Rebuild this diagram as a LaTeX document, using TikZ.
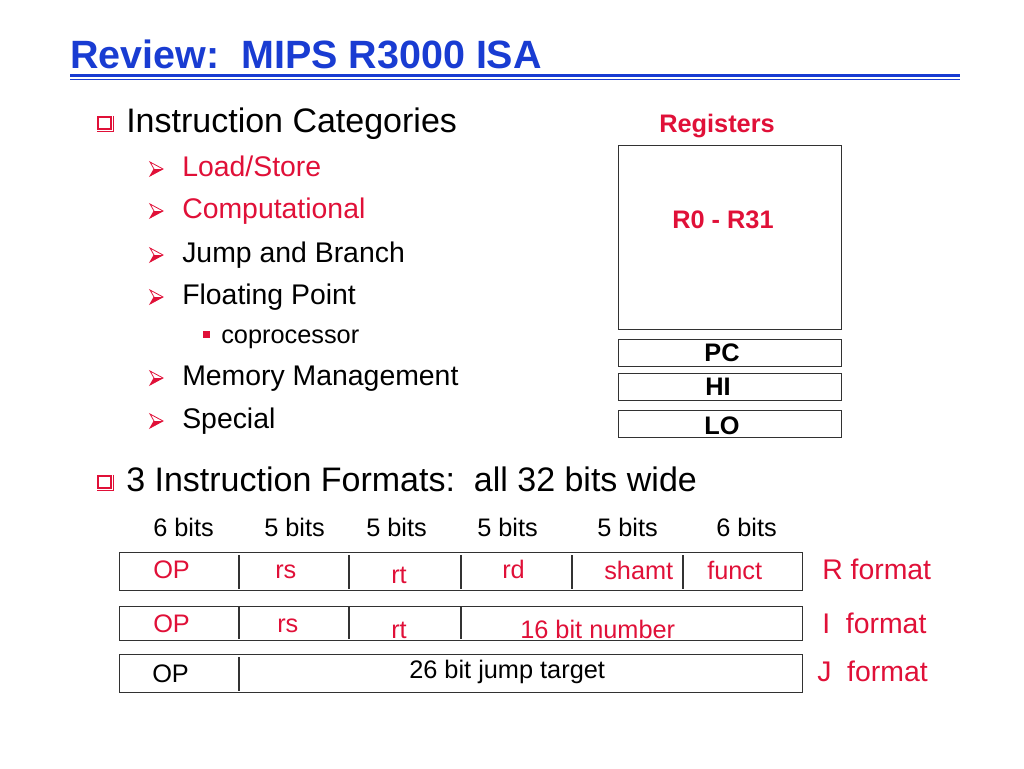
\documentclass[tikz,border=0pt]{standalone}
\usepackage{fontspec}
\setmainfont{Liberation Sans}
\definecolor{ttlblue}{RGB}{25,60,210}
\definecolor{slred}{RGB}{224,16,56}
\definecolor{edge}{RGB}{50,50,50}
\begin{document}
\begin{tikzpicture}[x=0.75pt,y=-0.75pt,
  txt/.style={inner sep=0pt, anchor=base west},
  ctxt/.style={inner sep=0pt, anchor=base},
  bigf/.style={font=\fontsize{25.5}{30}\selectfont},
  midf/.style={font=\fontsize{21.3}{26}\selectfont},
  smallf/.style={font=\fontsize{19}{23}\selectfont},
  boldf/.style={font=\fontsize{19}{23}\selectfont\bfseries},
  redt/.style={text=slred},
  sqbullet/.style={draw=slred, line width=1.8pt, minimum width=9.5pt, minimum height=9pt, inner sep=0pt, anchor=south west},
  sqshadow/.style={draw=slred, line width=1.2pt},
  boxnode/.style={draw=edge, line width=1.1pt, inner sep=0pt, anchor=north west},
  divider/.style={draw=edge, line width=1.1pt},
  arrbullet/.pic={
    \draw[slred, line width=0.6pt, line join=miter] (0,-7) -- (13,0) -- (0,7) -- (4,0) -- cycle;
    \fill[slred] (0,7) -- (13,0) -- (4,0) -- cycle;
  }
]
\useasboundingbox (0,0) rectangle (1024,768);

% title
\node[txt, text=ttlblue, font=\fontsize{29.6}{35}\selectfont\bfseries] (title) at (70,68) {Review:\ \ MIPS R3000 ISA};
\draw[ttlblue, line width=2.4pt] (70,75.5) -- (960,75.5);
\draw[ttlblue, line width=0.8pt] (70,79.5) -- (960,79.5);

% first bullet
\node[sqbullet] (sq1) at (97,130) {};
\draw[sqshadow] ([xshift=1pt,yshift=-0.2pt]sq1.north east) -- ([xshift=1pt,yshift=-1pt]sq1.south east) -- ([xshift=0.2pt,yshift=-1pt]sq1.south west);
\node[txt, bigf] (cat) at (126,132) {Instruction Categories};

\pic at (150,169) {arrbullet};
\node[txt, midf, redt] (ls) at (182,176) {Load/Store};
\pic at (150,211) {arrbullet};
\node[txt, midf, redt] (comp) at (182,218) {Computational};
\pic at (150,255) {arrbullet};
\node[txt, midf] (jb) at (182,262) {Jump and Branch};
\pic at (150,297) {arrbullet};
\node[txt, midf] (fp) at (182,304) {Floating Point};
\fill[slred] (203,331) rectangle (210,338);
\node[txt, smallf] (cop) at (221,343) {coprocessor};
\pic at (150,378) {arrbullet};
\node[txt, midf] (mm) at (182,385) {Memory Management};
\pic at (150,421) {arrbullet};
\node[txt, midf] (sp) at (182,428) {Special};

% registers
\node[ctxt, boldf, redt] (reglbl) at (717,132) {Registers};
\node[boxnode, minimum width={223*0.75pt}, minimum height={184*0.75pt}] (regs) at (618,145) {};
\node[ctxt, boldf, redt] (r031) at (723,228) {R0 - R31};
\node[boxnode, minimum width={223*0.75pt}, minimum height={27*0.75pt}] (pcbox) at (618,339) {};
\node[ctxt, boldf] (pc) at (722,361) {PC};
\node[boxnode, minimum width={223*0.75pt}, minimum height={27*0.75pt}] (hibox) at (618,373) {};
\node[ctxt, boldf] (hi) at (718,395) {HI};
\node[boxnode, minimum width={223*0.75pt}, minimum height={27*0.75pt}] (lobox) at (618,410) {};
\node[ctxt, boldf] (lo) at (722,434) {LO};

% second bullet
\node[sqbullet] (sq2) at (97,489) {};
\draw[sqshadow] ([xshift=1pt,yshift=-0.2pt]sq2.north east) -- ([xshift=1pt,yshift=-1pt]sq2.south east) -- ([xshift=0.2pt,yshift=-1pt]sq2.south west);
\node[txt, bigf] (fmts) at (126,491) {3 Instruction Formats:\ \ all 32 bits wide};

\node[txt, smallf] (b1) at (153,536) {6 bits};
\node[txt, smallf] (b2) at (264,536) {5 bits};
\node[txt, smallf] (b3) at (366,536) {5 bits};
\node[txt, smallf] (b4) at (477,536) {5 bits};
\node[txt, smallf] (b5) at (597,536) {5 bits};
\node[txt, smallf] (b6) at (716,536) {6 bits};

% R format
\node[boxnode, minimum width={683*0.75pt}, minimum height={38*0.75pt}] (rbox) at (119,552) {};
\draw[divider] (239,555) -- (239,589);
\draw[divider] (349,555) -- (349,589);
\draw[divider] (461,555) -- (461,589);
\draw[divider] (572,555) -- (572,589);
\draw[divider] (683,555) -- (683,589);
\node[txt, smallf, redt] (rop) at (153,578) {OP};
\node[txt, smallf, redt] (rrs) at (275,578) {rs};
\node[txt, smallf, redt] (rrt) at (391,583) {rt};
\node[txt, smallf, redt] (rrd) at (502,578) {rd};
\node[txt, smallf, redt] (rsh) at (604,579) {shamt};
\node[txt, smallf, redt] (rfn) at (707,579) {funct};
\node[txt, midf, redt] (rlbl) at (822,579) {R format};

% I format
\node[boxnode, minimum width={683*0.75pt}, minimum height={34*0.75pt}] (ibox) at (119,606) {};
\draw[divider] (239,607) -- (239,639);
\draw[divider] (349,607) -- (349,639);
\draw[divider] (461,607) -- (461,639);
\node[txt, smallf, redt] (iop) at (153,632) {OP};
\node[txt, smallf, redt] (irs) at (277,632) {rs};
\node[txt, smallf, redt] (irt) at (391,638) {rt};
\node[txt, smallf, redt] (inum) at (520,638) {16 bit number};
\node[txt, midf, redt] (ilbl) at (822,633) {I\ \ format};

% J format
\node[boxnode, minimum width={683*0.75pt}, minimum height={38*0.75pt}] (jbox) at (119,654) {};
\draw[divider] (239,657) -- (239,691);
\node[txt, smallf] (jop) at (152,682) {OP};
\node[txt, smallf] (jtgt) at (409,678) {26 bit jump target};
\node[txt, midf, redt] (jlbl) at (817,681) {J\ \ format};
\end{tikzpicture}
\end{document}
